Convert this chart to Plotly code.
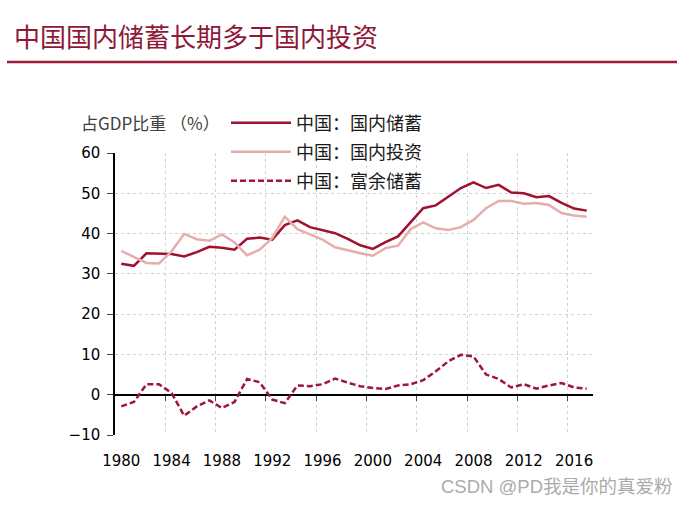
import plotly.graph_objects as go

years = list(range(1980, 2018))
savings = [32.5, 32.0, 35.1, 35.0, 34.9, 34.3, 35.4, 36.7, 36.5, 36.0,
           38.7, 39.0, 38.5, 42.1, 43.3, 41.6, 40.8, 40.1, 38.7, 37.1,
           36.2, 37.9, 39.3, 42.8, 46.3, 47.0, 49.2, 51.3, 52.7, 51.3,
           52.1, 50.2, 50.0, 49.0, 49.3, 47.6, 46.2, 45.7]
investment = [35.7, 34.1, 32.7, 32.6, 35.6, 39.9, 38.6, 38.2, 39.8, 37.8,
              34.6, 36.0, 38.9, 44.2, 41.1, 39.8, 38.5, 36.6, 35.8, 35.1,
              34.5, 36.4, 37.0, 41.1, 42.8, 41.3, 40.9, 41.6, 43.4, 46.3,
              48.1, 48.1, 47.4, 47.6, 47.1, 45.1, 44.5, 44.2]
surplus = [-2.9, -1.8, 2.6, 2.6, 0.4, -5.2, -2.9, -1.4, -3.3, -1.8,
           3.9, 3.1, -1.2, -2.1, 2.3, 2.1, 2.6, 4.0, 3.0, 2.1,
           1.65, 1.4, 2.3, 2.6, 3.6, 5.8, 8.3, 9.9, 9.5, 5.0,
           3.9, 1.8, 2.6, 1.5, 2.3, 2.9, 1.8, 1.5]
label_years = list(range(1980, 2017, 4))
boundary_ticks = [y - 0.5 for y in range(1984, 2017, 4)]
series_names = ["中国：国内储蓄", "中国：国内投资", "中国：富余储蓄"]

W, H = 691, 506
L, R, T, B = 115, 98, 153, 71
PW, PH = W - L - R, H - T - B

def px(x):
    return (x - L) / PW

def py(y):
    return (H - B - y) / PH

RED = "#A1112F"
PINK = "#E7ADAD"
DASHRED = "#9E1638"
GRID = "#d2d2d2"
TICKFONT = dict(family="DejaVu Sans", size=15, color="#000000")
CJK = "Noto Sans CJK SC"

fig = go.Figure()
fig.add_trace(go.Scatter(x=years, y=savings, mode="lines", name=series_names[0],
                         line=dict(color=RED, width=2.5), legend="legend"))
fig.add_trace(go.Scatter(x=years, y=investment, mode="lines", name=series_names[1],
                         line=dict(color=PINK, width=2.5), legend="legend2"))
fig.add_trace(go.Scatter(x=years, y=surplus, mode="lines", name=series_names[2],
                         line=dict(color=DASHRED, width=2.5, dash="6px,3px"), legend="legend3"))
# invisible helper trace to draw tick marks on the zero line
fig.add_trace(go.Scatter(x=years, y=surplus, mode="lines", xaxis="x2", yaxis="y",
                         line=dict(width=0), opacity=0, showlegend=False, hoverinfo="skip"))

legend_common = dict(xanchor="left", yanchor="middle", bgcolor="rgba(0,0,0,0)",
                     font=dict(family=CJK, size=18, color="#1a1a1a"), itemwidth=60)
fig.update_layout(
    width=W, height=H,
    margin=dict(l=L, r=R, t=T, b=B),
    paper_bgcolor="white", plot_bgcolor="white",
    showlegend=True,
    legend=dict(x=px(226), y=py(123), **legend_common),
    legend2=dict(x=px(226), y=py(152), **legend_common),
    legend3=dict(x=px(226), y=py(181), **legend_common),
    xaxis=dict(range=[1979.5, 2017.5], tickmode="array", tickvals=label_years,
               ticktext=[str(y) for y in label_years], ticks="outside", ticklen=12,
               tickcolor="rgba(0,0,0,0)", showgrid=False, zeroline=False, showline=False,
               tickfont=TICKFONT,
               minor=dict(tickmode="array", tickvals=boundary_ticks, showgrid=True,
                          gridcolor=GRID, griddash="dot", gridwidth=1, ticks="")),
    xaxis2=dict(range=[1979.5, 2017.5], overlaying="x", anchor="free",
                position=10 / 70, side="bottom", tickmode="array", tickvals=boundary_ticks,
                ticks="outside", ticklen=5, tickcolor="#444", showticklabels=False,
                showgrid=False, zeroline=False, showline=False),
    yaxis=dict(range=[-10, 60], tickmode="array", tickvals=list(range(-10, 61, 10)),
               ticks="outside", ticklen=6, tickcolor="#444", showline=True,
               linecolor="#000", linewidth=1.5, showgrid=True, gridcolor=GRID,
               griddash="dot", gridwidth=1, zeroline=True, zerolinecolor="#000",
               zerolinewidth=1.5, tickfont=TICKFONT, ticklabelstandoff=4),
    title=dict(text="中国国内储蓄长期多于国内投资", xref="container", yref="container",
               x=14 / W, y=1 - 38 / H, xanchor="left", yanchor="middle",
               font=dict(family=CJK, size=26, color="#8E1838")),
)
fig.add_shape(type="line", xref="paper", yref="paper", x0=px(7), x1=px(677),
              y0=py(62), y1=py(62), line=dict(color="#9E1B3A", width=2.5))
fig.add_annotation(text="占GDP比重 （%）", xref="paper", yref="paper", x=px(79), y=py(123),
                   xanchor="left", yanchor="middle", showarrow=False,
                   font=dict(family=CJK, size=17, color="#404040"))
fig.add_annotation(text="CSDN @PD我是你的真爱粉", xref="paper", yref="paper", x=px(675),
                   y=py(486), xanchor="right", yanchor="middle", showarrow=False,
                   font=dict(family="Liberation Sans, " + CJK, size=18.5, color="#ababab"))

fig.write_html("out.html")
